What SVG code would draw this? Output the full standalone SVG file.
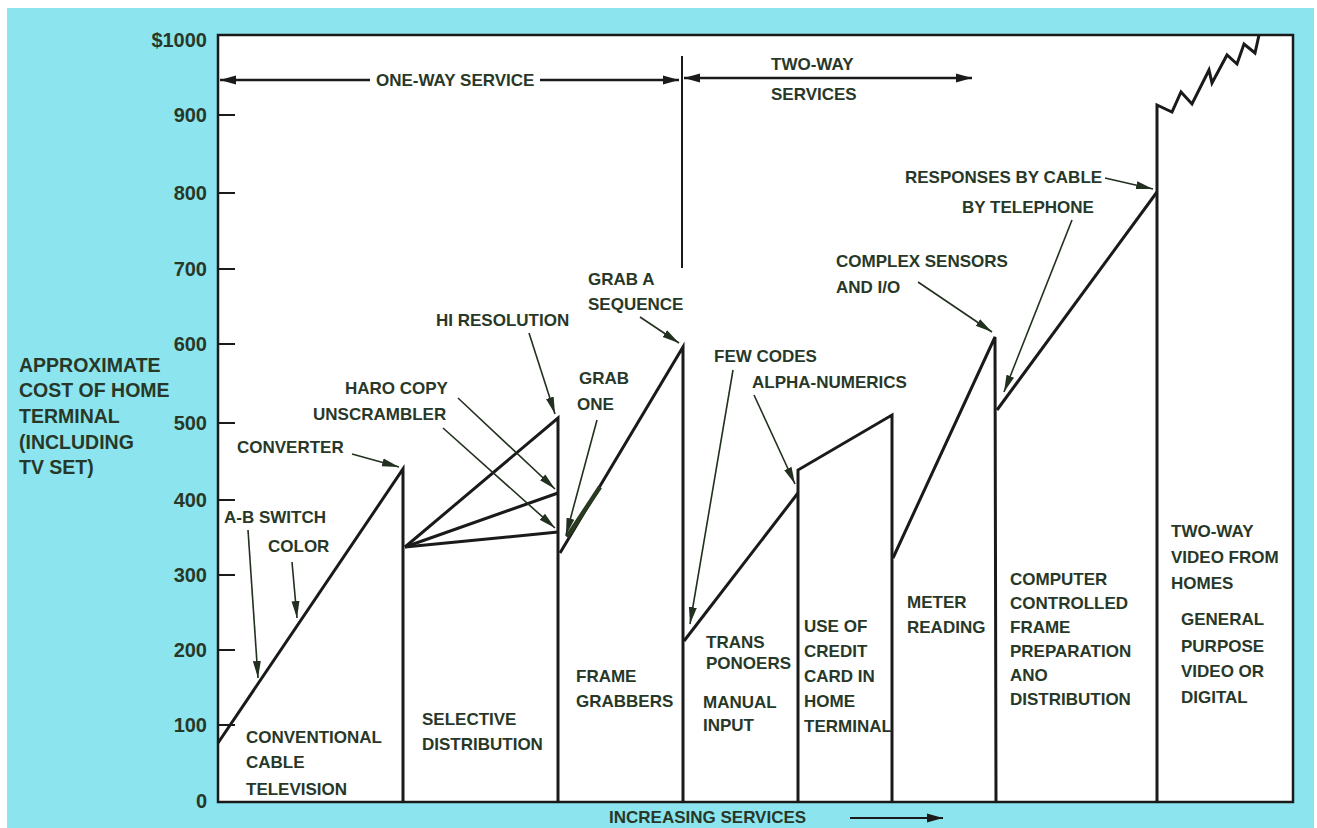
<svg xmlns="http://www.w3.org/2000/svg" width="1317" height="828" viewBox="0 0 1317 828">
<defs>
<style>
.t{font-family:"Liberation Sans",Arial,sans-serif;font-weight:bold;font-size:17px;fill:#283828}
.ax{font-size:20px;text-anchor:end}
.yl{font-size:19.5px}
.main{fill:none;stroke:#1a1a1a;stroke-width:3;stroke-linejoin:miter}
.arr{fill:none;stroke:#22301f;stroke-width:1.6;marker-end:url(#ah)}
.tarr{fill:none;stroke:#1a1a1a;stroke-width:2.5}
</style>
<marker id="ah" markerUnits="userSpaceOnUse" markerWidth="18" markerHeight="10" refX="17" refY="5" orient="auto">
<path d="M0,1 L17,5 L0,9 Z" fill="#22301f"/>
</marker>
<marker id="ta" markerUnits="userSpaceOnUse" markerWidth="18" markerHeight="12" refX="16" refY="6" orient="auto">
<path d="M0,1.5 L16,6 L0,10.5 Z" fill="#1a1a1a"/>
</marker>
</defs>
<rect x="0" y="0" width="1317" height="828" fill="#ffffff"/>
<rect x="7" y="8" width="1307" height="820" fill="#8ce5ee"/>
<rect id="plot" x="218" y="35" width="1075" height="767" fill="#ffffff" stroke="#1a1a1a" stroke-width="2.5"/>

<g id="axis">
<g stroke="#1a1a1a" stroke-width="2">
<line x1="218" y1="115" x2="235" y2="115"/>
<line x1="218" y1="193" x2="235" y2="193"/>
<line x1="218" y1="269" x2="235" y2="269"/>
<line x1="218" y1="344" x2="235" y2="344"/>
<line x1="218" y1="423" x2="235" y2="423"/>
<line x1="218" y1="500" x2="235" y2="500"/>
<line x1="218" y1="575" x2="235" y2="575"/>
<line x1="218" y1="650" x2="235" y2="650"/>
<line x1="218" y1="725" x2="235" y2="725"/>
</g>
<text class="t ax" x="207" y="47">$1000</text>
<text class="t ax" x="207" y="122">900</text>
<text class="t ax" x="207" y="200">800</text>
<text class="t ax" x="207" y="276">700</text>
<text class="t ax" x="207" y="351">600</text>
<text class="t ax" x="207" y="430">500</text>
<text class="t ax" x="207" y="507">400</text>
<text class="t ax" x="207" y="582">300</text>
<text class="t ax" x="207" y="657">200</text>
<text class="t ax" x="207" y="732">100</text>
<text class="t ax" x="207" y="808">0</text>
</g>

<g id="ylabel">
<text class="t yl" x="19" y="372">APPROXIMATE</text>
<text class="t yl" x="19" y="397">COST OF HOME</text>
<text class="t yl" x="19" y="423">TERMINAL</text>
<text class="t yl" x="19" y="449">(INCLUDING</text>
<text class="t yl" x="19" y="474">TV SET)</text>
</g>

<g id="services-header">
<line class="tarr" x1="370" y1="80" x2="220" y2="80" marker-end="url(#ta)"/>
<text class="t" x="376" y="86">ONE-WAY SERVICE</text>
<line class="tarr" x1="540" y1="80" x2="679" y2="80" marker-end="url(#ta)"/>
<line x1="682" y1="56" x2="682" y2="268" stroke="#1a1a1a" stroke-width="2"/>
<line class="tarr" x1="830" y1="78" x2="684" y2="78" marker-end="url(#ta)"/>
<line class="tarr" x1="830" y1="78" x2="972" y2="78" marker-end="url(#ta)"/>
<text class="t" x="771" y="70">TWO-WAY</text>
<text class="t" x="771" y="100">SERVICES</text>
</g>

<g id="connectors">
<path class="main" d="M218,743 L403,469 L403,802"/>
<path class="main" d="M405,547 L558,418 L558,802"/>
<path class="main" d="M405,547 L558,493"/>
<path class="main" d="M405,547 L558,532"/>
<path class="main" d="M560,553 L683,347 L683,802"/>
<line x1="567" y1="537" x2="600" y2="487" stroke="#2a3a22" stroke-width="4.5"/>
<path class="main" d="M684,641 L798,493"/>
<path class="main" d="M798,802 L798,470 L892,415 L892,802"/>
<path class="main" d="M893,558 L995,337 L996,802"/>
<path class="main" d="M997,410 L1157,192"/>
<path class="main" d="M1157,802 L1157,105 L1172,112 L1181,92 L1192,104 L1209,70 L1212,83 L1227,55 L1237,64 L1244,44 L1255,53 L1259,35"/>

<line class="arr" x1="248" y1="530" x2="258" y2="678"/>
<line class="arr" x1="292" y1="562" x2="297" y2="618"/>
<line class="arr" x1="352" y1="454" x2="399" y2="467"/>
<line class="arr" x1="458" y1="398" x2="555" y2="489"/>
<line class="arr" x1="443" y1="428" x2="555" y2="528"/>
<line class="arr" x1="529" y1="333" x2="555" y2="414"/>
<line class="arr" x1="597" y1="420" x2="566" y2="535"/>
<line class="arr" x1="640" y1="317" x2="679" y2="343"/>
<line class="arr" x1="733" y1="370" x2="690" y2="624"/>
<line class="arr" x1="754" y1="395" x2="795" y2="484"/>
<line class="arr" x1="918" y1="282" x2="992" y2="332"/>
<line class="arr" x1="1072" y1="220" x2="1004" y2="392"/>
<line class="arr" x1="1105" y1="178" x2="1153" y2="189"/>
</g>

<g id="col1">
<text class="t" x="224" y="523">A-B SWITCH</text>
<text class="t" x="268" y="552">COLOR</text>
<text class="t" x="237" y="453">CONVERTER</text>
<text class="t" x="246" y="743">CONVENTIONAL</text>
<text class="t" x="246" y="768">CABLE</text>
<text class="t" x="246" y="795">TELEVISION</text>
</g>
<g id="col2">
<text class="t" x="345" y="394">HARO COPY</text>
<text class="t" x="313" y="420">UNSCRAMBLER</text>
<text class="t" x="422" y="725">SELECTIVE</text>
<text class="t" x="422" y="750">DISTRIBUTION</text>
</g>
<g id="col3">
<text class="t" x="436" y="326">HI RESOLUTION</text>
<text class="t" x="579" y="384">GRAB</text>
<text class="t" x="577" y="410">ONE</text>
<text class="t" x="588" y="285">GRAB A</text>
<text class="t" x="588" y="310">SEQUENCE</text>
<text class="t" x="576" y="682">FRAME</text>
<text class="t" x="576" y="707">GRABBERS</text>
</g>
<g id="col4">
<text class="t" x="714" y="362">FEW CODES</text>
<text class="t" x="752" y="388">ALPHA-NUMERICS</text>
<text class="t" x="706" y="648">TRANS</text>
<text class="t" x="706" y="669">PONOERS</text>
<text class="t" x="703" y="708">MANUAL</text>
<text class="t" x="703" y="731">INPUT</text>
</g>
<g id="col5">
<text class="t" x="804" y="632">USE OF</text>
<text class="t" x="804" y="657">CREDIT</text>
<text class="t" x="804" y="682">CARD IN</text>
<text class="t" x="804" y="707">HOME</text>
<text class="t" x="804" y="732">TERMINAL</text>
</g>
<g id="col6">
<text class="t" x="836" y="267">COMPLEX SENSORS</text>
<text class="t" x="836" y="293">AND I/O</text>
<text class="t" x="907" y="608">METER</text>
<text class="t" x="907" y="633">READING</text>
</g>
<g id="col7">
<text class="t" x="905" y="183">RESPONSES BY CABLE</text>
<text class="t" x="962" y="213">BY TELEPHONE</text>
<text class="t" x="1010" y="585">COMPUTER</text>
<text class="t" x="1010" y="609">CONTROLLED</text>
<text class="t" x="1010" y="633">FRAME</text>
<text class="t" x="1010" y="657">PREPARATION</text>
<text class="t" x="1010" y="681">ANO</text>
<text class="t" x="1010" y="705">DISTRIBUTION</text>
</g>
<g id="col8">
<text class="t" x="1171" y="537">TWO-WAY</text>
<text class="t" x="1171" y="563">VIDEO FROM</text>
<text class="t" x="1171" y="589">HOMES</text>
<text class="t" x="1181" y="625">GENERAL</text>
<text class="t" x="1181" y="652">PURPOSE</text>
<text class="t" x="1181" y="677">VIDEO OR</text>
<text class="t" x="1181" y="703">DIGITAL</text>
</g>
<g id="xlabel">
<text class="t" x="609" y="823" style="font-size:17px">INCREASING SERVICES</text>
<line x1="850" y1="818" x2="943" y2="818" stroke="#1a1a1a" stroke-width="2" marker-end="url(#ta)"/>
</g>
</svg>
